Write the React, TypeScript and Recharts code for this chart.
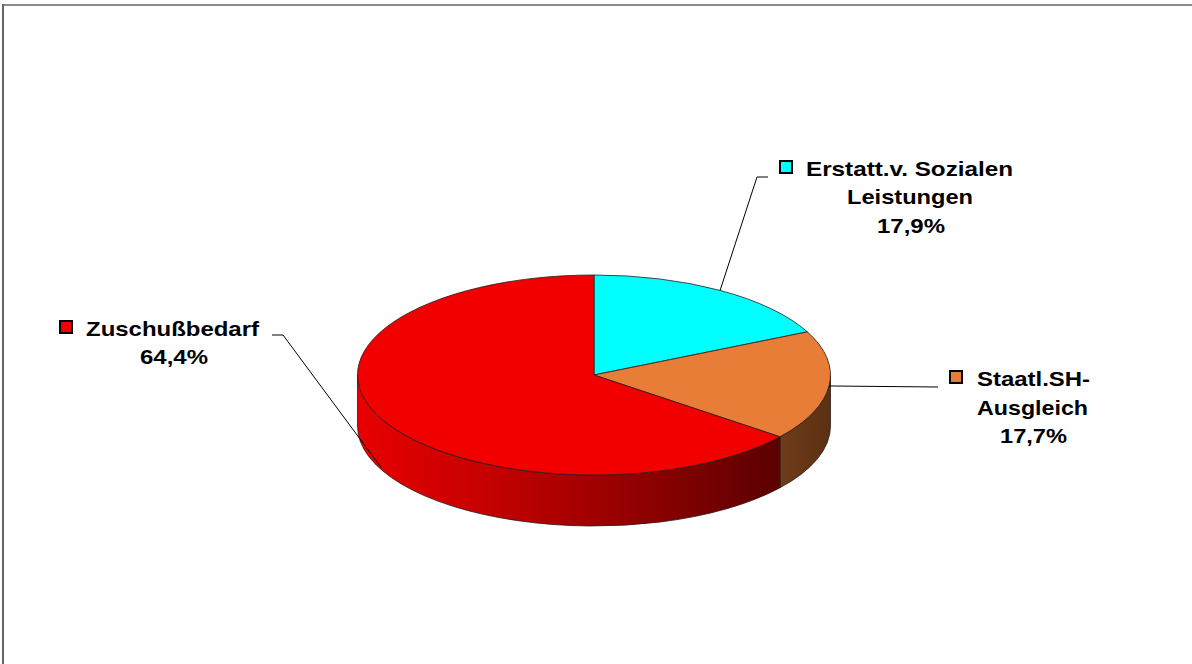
import React from "react";
import { PieChart, Pie } from "recharts";

// data
const categories = ["Erstatt.v. Sozialen Leistungen", "Staatl.SH-Ausgleich", "Zuschußbedarf"];
const nameLines = [["Erstatt.v. Sozialen", "Leistungen"], ["Staatl.SH-", "Ausgleich"], ["Zuschußbedarf"]];
const shares = [17.9, 17.7, 64.4];
const topColors = ["#00FFFF", "#E87D37", "#F20000"];

const data = categories.map((name, i) => ({ name, value: shares[i], fill: topColors[i] }));

// 3d geometry of the flattened pie
const CX = 594;
const CY = 375;
const RX = 236.5;
const RY = 100;
const DEPTH = 51;
const RAD = Math.PI / 180;

const FONT = "'Liberation Sans', Arial, Helvetica, sans-serif";

// text / leader placement
const LABEL_LAYOUT = [
  {
    key: [780, 161],
    lines: [
      { x: 806, y: 176, w: 207 },
      { x: 847, y: 204, w: 126 },
      { x: 877, y: 233, w: 68 },
    ],
    leader: [[768, 177], [757, 177]],
    drop: 0,
  },
  {
    key: [950, 371],
    lines: [
      { x: 977, y: 386, w: 113 },
      { x: 977, y: 415, w: 111 },
      { x: 1000, y: 443, w: 67 },
    ],
    leader: [[938, 387]],
    drop: 0,
  },
  {
    key: [60, 321],
    lines: [
      { x: 86, y: 336, w: 173 },
      { x: 140, y: 364, w: 68 },
    ],
    leader: [[272, 335], [283, 335]],
    drop: 49,
  },
];

const fmtPct = (v: number) => `${v.toFixed(1).replace(".", ",")}%`;

function pt(cx: number, cy: number, rx: number, ry: number, theta: number, dy = 0) {
  return [cx + rx * Math.sin(theta * RAD), cy - ry * Math.cos(theta * RAD) + dy];
}

function Slice3D(props: any) {
  const { cx, cy, startAngle, endAngle, outerRadius, fill, index } = props;
  const rx = outerRadius;
  const ry = (outerRadius * RY) / RX;
  // clockwise-from-top angles
  const t1 = 90 - startAngle;
  const t2 = 90 - endAngle;
  const a = pt(cx, cy, rx, ry, t1);
  const b = pt(cx, cy, rx, ry, t2);
  const large = t2 - t1 > 180 ? 1 : 0;
  const top = `M${cx},${cy} L${a[0]},${a[1]} A${rx},${ry} 0 ${large} 1 ${b[0]},${b[1]} Z`;

  // side wall only on the front half
  let wall: string | null = null;
  const ws = Math.max(t1, 90);
  const we = Math.min(t2, 270);
  if (ws < we) {
    const p1 = pt(cx, cy, rx, ry, ws);
    const p2 = pt(cx, cy, rx, ry, we);
    const q2 = pt(cx, cy, rx, ry, we, DEPTH);
    const q1 = pt(cx, cy, rx, ry, ws, DEPTH);
    const lg = we - ws > 180 ? 1 : 0;
    wall =
      `M${p1[0]},${p1[1]} A${rx},${ry} 0 ${lg} 1 ${p2[0]},${p2[1]} ` +
      `L${q2[0]},${q2[1]} A${rx},${ry} 0 ${lg} 0 ${q1[0]},${q1[1]} Z`;
  }
  const gid = `wall-${index}`;

  return (
    <g>
      <defs>
        {index === 2 ? (
          <linearGradient id={gid} gradientUnits="userSpaceOnUse" x1={cx - rx} y1={0} x2={cx + rx * 0.79} y2={0}>
            <stop offset="0%" stopColor="#E80000" />
            <stop offset="30%" stopColor="#C60000" />
            <stop offset="62%" stopColor="#980000" />
            <stop offset="100%" stopColor="#5A0000" />
          </linearGradient>
        ) : (
          <linearGradient id={gid} gradientUnits="userSpaceOnUse" x1={cx + rx * 0.79} y1={0} x2={cx + rx} y2={0}>
            <stop offset="0%" stopColor="#6E3D1A" />
            <stop offset="100%" stopColor="#5C3012" />
          </linearGradient>
        )}
      </defs>
      {wall && <path d={wall} fill={`url(#${gid})`} stroke="#2a1a1a" strokeWidth={0.8} />}
      <path d={top} fill={fill} stroke="#2a1a1a" strokeWidth={0.8} />
    </g>
  );
}

function renderLabel(props: any) {
  const { cx, cy, midAngle, outerRadius, index } = props;
  const lay = LABEL_LAYOUT[index];
  const rx = outerRadius;
  const ry = (outerRadius * RY) / RX;
  const anchor = pt(cx, cy, rx, ry, 90 - midAngle, lay.drop);
  const pts = [...lay.leader, anchor].map((p) => p.join(",")).join(" ");
  const texts = [...nameLines[index], fmtPct(shares[index])];
  return (
    <g key={`lbl-${index}`}>
      <polyline points={pts} fill="none" stroke="#000" strokeWidth={1} />
      <rect x={lay.key[0]} y={lay.key[1]} width={12} height={12} fill={topColors[index]} stroke="#000" strokeWidth={2} />
      {texts.map((t, i) => (
        <text
          key={i}
          x={lay.lines[i].x}
          y={lay.lines[i].y}
          textLength={lay.lines[i].w}
          lengthAdjust="spacingAndGlyphs"
          fontFamily={FONT}
          fontWeight="bold"
          fontSize={21}
          fill="#000"
        >
          {t}
        </text>
      ))}
    </g>
  );
}

export default function App() {
  return (
    <div
      style={{
        position: "fixed",
        left: 0,
        top: 0,
        width: 1192,
        height: 664,
        overflow: "hidden",
        background: "#fff",
      }}
    >
      {/* chart frame: only top and left edges are visible */}
      <div style={{ position: "absolute", left: 2, top: 4, width: 1190, height: 2, background: "#8a8a8a" }} />
      <div style={{ position: "absolute", left: 2, top: 4, width: 2, height: 660, background: "#666" }} />
      <div style={{ position: "absolute", left: 0, top: 0 }}>
        <PieChart width={1150} height={664} margin={{ top: 0, right: 0, bottom: 0, left: 0 }}>
          <Pie
            data={data}
            dataKey="value"
            nameKey="name"
            cx={CX}
            cy={CY}
            outerRadius={RX}
            startAngle={90}
            endAngle={-270}
            stroke="none"
            shape={Slice3D}
            label={renderLabel}
            labelLine={false}
            isAnimationActive={false}
          />
        </PieChart>
      </div>
    </div>
  );
}
